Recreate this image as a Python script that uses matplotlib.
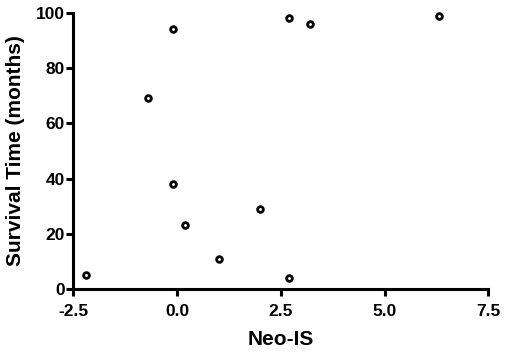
import matplotlib
matplotlib.use("Agg")
import matplotlib.pyplot as plt

neo_is = [-2.2, -0.7, -0.1, -0.1, 0.2, 1.0, 2.0, 2.7, 2.7, 3.2, 6.3]
survival = [5, 69, 94, 38, 23, 11, 29, 4, 98, 96, 99]
xticks = [-2.5, 0.0, 2.5, 5.0, 7.5]
yticks = [0, 20, 40, 60, 80, 100]

plt.rcParams['font.family'] = ['Liberation Sans', 'DejaVu Sans']
plt.rcParams['font.weight'] = 'bold'

fig = plt.figure(figsize=(5.1, 3.54), dpi=100)
ax = fig.add_axes([0.144, 0.1836, 0.8135, 0.7804])
ax.scatter(neo_is, survival, s=17, facecolors='white', edgecolors='black',
           linewidths=2.0, zorder=3, clip_on=False)
ax.set_xlim(-2.5, 7.5)
ax.set_ylim(0, 100)
ax.set_xticks(xticks)
ax.set_xticklabels([f"{t:.1f}" for t in xticks])
ax.set_yticks(yticks)
for s in ['top', 'right']:
    ax.spines[s].set_visible(False)
for s in ['left', 'bottom']:
    ax.spines[s].set_linewidth(2.2)
ax.tick_params(direction='out', length=5, width=2.2, labelsize=12.5)
ax.tick_params(axis='x', pad=5.5)
ax.tick_params(axis='y', pad=1)
for lab in ax.get_xticklabels() + ax.get_yticklabels():
    lab.set_fontweight('bold')
ax.set_xlabel("Neo-IS", fontsize=15, fontweight='bold', labelpad=8)
ax.set_ylabel("Survival Time (months)", fontsize=15, fontweight='bold', labelpad=8)
fig.savefig("out.png", dpi=100)
